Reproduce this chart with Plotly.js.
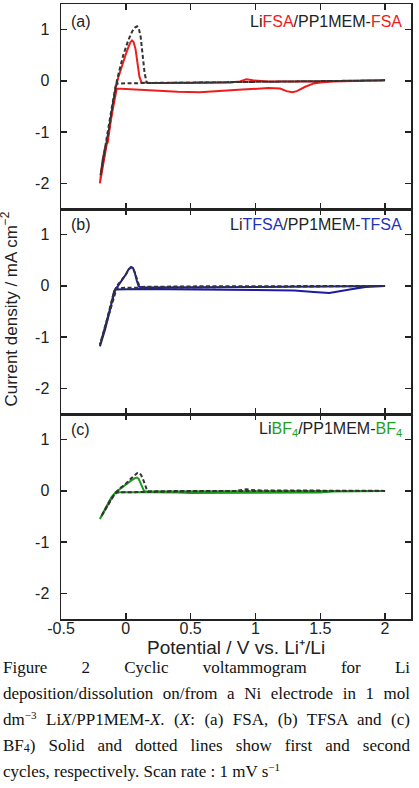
<!DOCTYPE html>
<html>
<head>
<meta charset="utf-8">
<script src="https://cdn.plot.ly/plotly-3.0.1.min.js"></script>
<style>
  html, body { margin: 0; padding: 0; background: #fff; overflow: hidden; }
  #wrap { position: relative; width: 419px; height: 788px; }
  #chart { position: absolute; left: 0; top: 0; width: 419px; height: 788px; }
  #caption { position: absolute; left: 3px; top: 658px; width: 407px;
    font-family: "Liberation Serif", "Times New Roman", serif; font-size: 17px; color: #111; }
  #caption .ln { line-height: 19px; margin-bottom: 7px; text-align: justify; text-align-last: justify; white-space: nowrap; }
  #caption .ln.last { text-align: left; text-align-last: left; }
  #caption sup { font-size: 11px; vertical-align: 6px; line-height: 0; }
  #caption sub { font-size: 12px; vertical-align: -1px; line-height: 0; }
</style>
</head>
<body>
<div id="wrap">
  <div id="chart"></div>
  <div id="caption">
    <div class="ln">Figure 2 Cyclic voltammogram for Li</div>
    <div class="ln">deposition/dissolution on/from a Ni electrode in 1 mol</div>
    <div class="ln">dm<sup>−3</sup> Li<i>X</i>/PP1MEM-<i>X</i>. (<i>X</i>: (a) FSA, (b) TFSA and (c)</div>
    <div class="ln">BF<sub>4</sub>) Solid and dotted lines show first and second</div>
    <div class="ln last">cycles, respectively. Scan rate : 1 mV s<sup>−1</sup></div>
  </div>
</div>
<script>
// ---------- data (potential / V vs Li+/Li, current density / mA cm^-2) ----------
// (a) LiFSA/PP1MEM-FSA, first cycle (solid)
var fsa1_E = [2.0, 1.75, 1.6, 1.5, 1.45, 1.38, 1.32, 1.285, 1.24, 1.19, 1.1, 0.9, 0.7, 0.57, 0.4, 0.2, 0.0, -0.07,
              -0.1, -0.13, -0.15, -0.18, -0.2,
              -0.18, -0.16, -0.14, -0.12, -0.1, -0.08, -0.06, -0.03, 0.0, 0.02, 0.035, 0.048, 0.06, 0.075, 0.09, 0.105, 0.12,
              0.2, 0.5, 0.8, 0.88, 0.93, 0.98, 1.1, 1.5, 2.0];
var fsa1_I = [0.01, 0.0, -0.01, -0.03, -0.05, -0.12, -0.2, -0.22, -0.2, -0.15, -0.14, -0.17, -0.2, -0.22, -0.21, -0.19, -0.17, -0.15,
              -0.55, -1.0, -1.3, -1.7, -2.0,
              -1.55, -1.3, -1.2, -0.85, -0.5, -0.15, 0.05, 0.3, 0.52, 0.66, 0.75, 0.79, 0.76, 0.62, 0.35, 0.08, -0.03,
              -0.04, -0.04, -0.03, -0.01, 0.03, 0.01, -0.01, -0.01, 0.01];
// (a) second cycle (dashed)
var fsa2_E = [2.0, 1.5, 1.0, 0.5, 0.0, -0.07, -0.1, -0.13, -0.16, -0.195,
              -0.17, -0.14, -0.11, -0.08, -0.05, -0.02, 0.02, 0.05, 0.07, 0.087, 0.1, 0.115, 0.13, 0.145, 0.16, 0.17,
              0.3, 0.6, 1.0, 1.5, 2.0];
var fsa2_I = [0.01, -0.01, -0.02, -0.03, -0.04, -0.05, -0.45, -0.95, -1.35, -1.84,
              -1.45, -1.0, -0.55, -0.12, 0.2, 0.5, 0.8, 0.97, 1.04, 1.065, 1.03, 0.85, 0.5, 0.15, -0.02, -0.04,
              -0.04, -0.03, -0.02, -0.01, 0.01];
// (b) LiTFSA/PP1MEM-TFSA, first cycle (solid)
var tfsa1_E = [2.0, 1.85, 1.75, 1.65, 1.57, 1.45, 1.3, 1.0, 0.7, 0.4, 0.1, -0.08, -0.09, -0.12, -0.16, -0.2,
               -0.17, -0.14, -0.11, -0.08, -0.06, -0.03, 0.0, 0.02, 0.04, 0.055, 0.07, 0.085, 0.1, 0.12,
               0.4, 1.0, 1.5, 2.0];
var tfsa1_I = [0.0, -0.02, -0.06, -0.11, -0.14, -0.12, -0.09, -0.08, -0.07, -0.065, -0.06, -0.07, -0.1, -0.45, -0.85, -1.18,
               -0.9, -0.6, -0.3, -0.06, 0.0, 0.1, 0.22, 0.32, 0.37, 0.35, 0.25, 0.1, -0.01, -0.03,
               -0.03, -0.02, -0.01, 0.0];
// (b) second cycle (dashed)
var tfsa2_E = [2.0, 1.0, 0.1, -0.07, -0.1, -0.14, -0.2,
               -0.15, -0.1, -0.07, -0.03, 0.0, 0.025, 0.045, 0.06, 0.075, 0.09, 0.105, 0.12,
               0.5, 2.0];
var tfsa2_I = [0.0, -0.02, -0.03, -0.04, -0.3, -0.65, -1.15,
               -0.7, -0.2, 0.0, 0.12, 0.22, 0.33, 0.36, 0.33, 0.22, 0.07, -0.01, -0.02,
               -0.01, 0.0];
// (c) LiBF4/PP1MEM-BF4, first cycle (solid)
var bf41_E = [2.0, 1.6, 1.5, 1.0, 0.5, 0.4, 0.1, -0.07, -0.09, -0.12, -0.16, -0.2,
              -0.17, -0.14, -0.11, -0.08, -0.05, 0.0, 0.04, 0.07, 0.085, 0.1, 0.115, 0.13, 0.14, 0.16,
              0.5, 1.0, 2.0];
var bf41_I = [0.0, -0.01, -0.03, -0.04, -0.04, -0.03, -0.02, -0.02, -0.06, -0.2, -0.38, -0.55,
              -0.4, -0.25, -0.12, -0.03, 0.03, 0.12, 0.2, 0.25, 0.26, 0.23, 0.15, 0.05, 0.0, -0.01,
              -0.01, 0.0, 0.0];
// (c) second cycle (dashed)
var bf42_E = [2.0, 1.5, 1.0, 0.93, 0.85, 0.5, 0.1, -0.07, -0.1, -0.14, -0.17, -0.19,
              -0.16, -0.12, -0.08, -0.04, 0.0, 0.04, 0.07, 0.09, 0.105, 0.12, 0.14, 0.155, 0.165, 0.18,
              0.5, 2.0];
var bf42_I = [0.0, 0.0, 0.01, 0.03, 0.0, -0.01, -0.02, -0.03, -0.12, -0.28, -0.4, -0.5,
              -0.36, -0.18, -0.04, 0.06, 0.14, 0.24, 0.31, 0.35, 0.35, 0.3, 0.18, 0.06, 0.0, -0.01,
              0.0, 0.0];

var xTicks = [-0.5, 0, 0.5, 1, 1.5, 2];
var xTickText = ['-0.5', '0', '0.5', '1', '1.5', '2'];
var yTicks = [-2, -1, 0, 1];
var yTickText = ['-2', '-1', '0', '1'];

// ---------- styling ----------
var RED = '#ee1c1c', BLUE = '#1c1ca0', GREEN = '#1e9a1e', DASH = '#333333';
var FONT = 'Liberation Sans, Arial, sans-serif';

function solid(x, y, c, ax) {
  return {x: x, y: y, xaxis: ax[0], yaxis: ax[1], mode: 'lines', type: 'scatter',
          line: {color: c, width: 2}, hoverinfo: 'skip', showlegend: false};
}
function dashed(x, y, ax) {
  return {x: x, y: y, xaxis: ax[0], yaxis: ax[1], mode: 'lines', type: 'scatter',
          line: {color: DASH, width: 2, dash: '4px,2.5px'}, hoverinfo: 'skip', showlegend: false};
}

var data = [
  solid(fsa1_E, fsa1_I, RED, ['x', 'y']),
  dashed(fsa2_E, fsa2_I, ['x', 'y']),
  solid(tfsa1_E, tfsa1_I, BLUE, ['x2', 'y2']),
  dashed(tfsa2_E, tfsa2_I, ['x2', 'y2']),
  solid(bf41_E, bf41_I, GREEN, ['x3', 'y3']),
  dashed(bf42_E, bf42_I, ['x3', 'y3'])
];

function xax(anchor, labels) {
  return {anchor: anchor, range: [-0.5, 2.2], tickvals: xTicks, ticktext: xTickText,
          showticklabels: labels, ticks: 'inside', ticklen: 6, tickwidth: 1.5, tickcolor: '#222',
          showline: true, linecolor: '#222', linewidth: 1.5, mirror: 'allticks',
          showgrid: false, zeroline: false, ticklabelstandoff: -6,
          tickfont: {family: FONT, size: 16, color: '#222'}};
}
function yax(anchor, dom) {
  return {anchor: anchor, domain: dom, range: [-2.5, 1.5], tickvals: yTicks, ticktext: yTickText,
          ticks: 'inside', ticklen: 6, tickwidth: 1.5, tickcolor: '#222',
          showline: true, linecolor: '#222', linewidth: 1.5, mirror: 'allticks',
          showgrid: false, zeroline: false, ticklabelstandoff: 7,
          tickfont: {family: FONT, size: 16, color: '#222'}};
}

function lbl(text, x, y, xanchor) {
  return {xref: 'paper', yref: 'paper', x: x, y: y, xanchor: xanchor, yanchor: 'middle',
          text: text, showarrow: false, font: {family: FONT, size: 16, color: '#222'}};
}

var layout = {
  width: 419, height: 788,
  margin: {l: 61, r: 8, t: 4, b: 169},
  paper_bgcolor: '#fff', plot_bgcolor: '#fff',
  showlegend: false,
  xaxis: xax('y', false),
  yaxis: yax('x', [2/3, 1]),
  xaxis2: xax('y2', false),
  yaxis2: yax('x2', [1/3, 2/3]),
  xaxis3: xax('y3', true),
  yaxis3: yax('x3', [0, 1/3]),
  annotations: [
    lbl('(a)', 0.022, 0.9715, 'left'),
    lbl('(b)', 0.022, 0.6407, 'left'),
    lbl('(c)', 0.022, 0.308, 'left'),
    lbl('Li<span style="color:' + RED + '">FSA</span>/PP1MEM-<span style="color:' + RED + '">FSA</span>', 0.979, 0.9715, 'right'),
    lbl('Li<span style="color:#2233bb">TFSA</span>/PP1MEM-<span style="color:#2233bb">TFSA</span>', 0.979, 0.6407, 'right'),
    lbl('Li<span style="color:#22a022">BF<sub>4</sub></span>/PP1MEM-<span style="color:#22a022">BF<sub>4</sub></span>', 0.979, 0.308, 'right'),
    {xref: 'paper', yref: 'paper', x: -0.147, y: 0.504, xanchor: 'center', yanchor: 'middle',
     textangle: -90, showarrow: false, text: 'Current density / mA cm<sup>−2</sup>',
     font: {family: FONT, size: 17, color: '#222'}},
    {xref: 'paper', yref: 'paper', x: 0.5, y: -0.046, xanchor: 'center', yanchor: 'middle',
     showarrow: false, text: 'Potential / V vs. Li⁺/Li',
     font: {family: FONT, size: 19, color: '#222'}}
  ]
};

Plotly.newPlot('chart', data, layout, {staticPlot: true, displayModeBar: false});
</script>
</body>
</html>
